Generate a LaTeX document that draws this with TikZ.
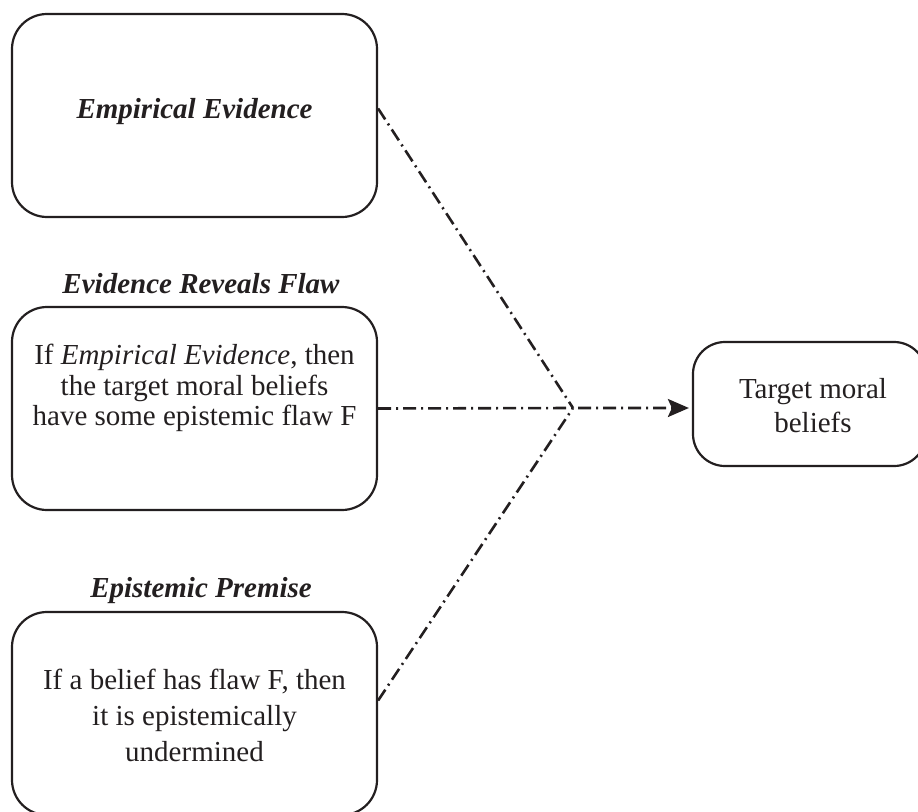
\documentclass[tikz,border=0pt]{standalone}
\usepackage{fontspec}
\setmainfont{Liberation Serif}
\usetikzlibrary{arrows.meta,calc}
\definecolor{ink}{HTML}{231F20}
\tikzset{
  stagebox/.style={draw=ink, line width=2.2pt, rounded corners=35pt,
    minimum width=365pt, minimum height=203pt, inner sep=0pt},
  targetbox/.style={draw=ink, line width=2.2pt, rounded corners=32pt,
    minimum width=233pt, minimum height=124pt, inner sep=0pt},
  txt/.style={text=ink, align=center, inner sep=0pt},
  headtxt/.style={text=ink, inner sep=0pt, anchor=base,
    font=\fontsize{29}{34}\selectfont\bfseries\itshape},
  link/.style={draw=ink, line width=2.6pt,
    dash pattern=on 13pt off 5pt on 2pt off 5pt},
}
\begin{document}
\begin{tikzpicture}[x=1pt,y=-1pt]
  \useasboundingbox (0,0) rectangle (918,811);
  \clip (0,0) rectangle (918,811);

  % premise boxes on the left
  \node[stagebox] (b1) at (194.5,115.5) {};
  \node[stagebox] (b2) at (194.5,408.5) {};
  \node[stagebox] (b3) at (194.5,713.5) {};
  % conclusion box on the right
  \node[targetbox] (tg) at (809.5,404) {};

  % box contents
  \node[txt, font=\fontsize{29}{34}\selectfont\bfseries\itshape] (t1) at (194.5,111.5) {Empirical Evidence};
  \node[txt, font=\fontsize{29}{30.5}\selectfont] (t2) at (194.5,388)
    {If \textit{Empirical Evidence}, then\\the target moral beliefs\\have some epistemic flaw F};
  \node[txt, font=\fontsize{29}{36}\selectfont] (t3) at (194.5,715)
    {If a belief has flaw F, then\\it is epistemically\\undermined};
  \node[txt, font=\fontsize{29}{34}\selectfont] (t4) at (813,405.5)
    {Target moral\\beliefs};

  % headings above the lower two boxes
  \node[headtxt] (h2) at (201,293) {Evidence Reveals Flaw};
  \node[headtxt] (h3) at (201,597) {Epistemic Premise};

  % converging dash-dot connectors
  \coordinate (J) at (573,408);
  \draw[link] ($(b1.east)+(0,-7)$) -- (J);
  \draw[link] ($(b3.east)+(0,-13)$) -- (J);
  \draw[link, -{Stealth[length=21pt,width=18pt,inset=4pt]}, shorten >=3pt]
    (b2.east) -- (J) -- (J -| tg.west);
\end{tikzpicture}
\end{document}
